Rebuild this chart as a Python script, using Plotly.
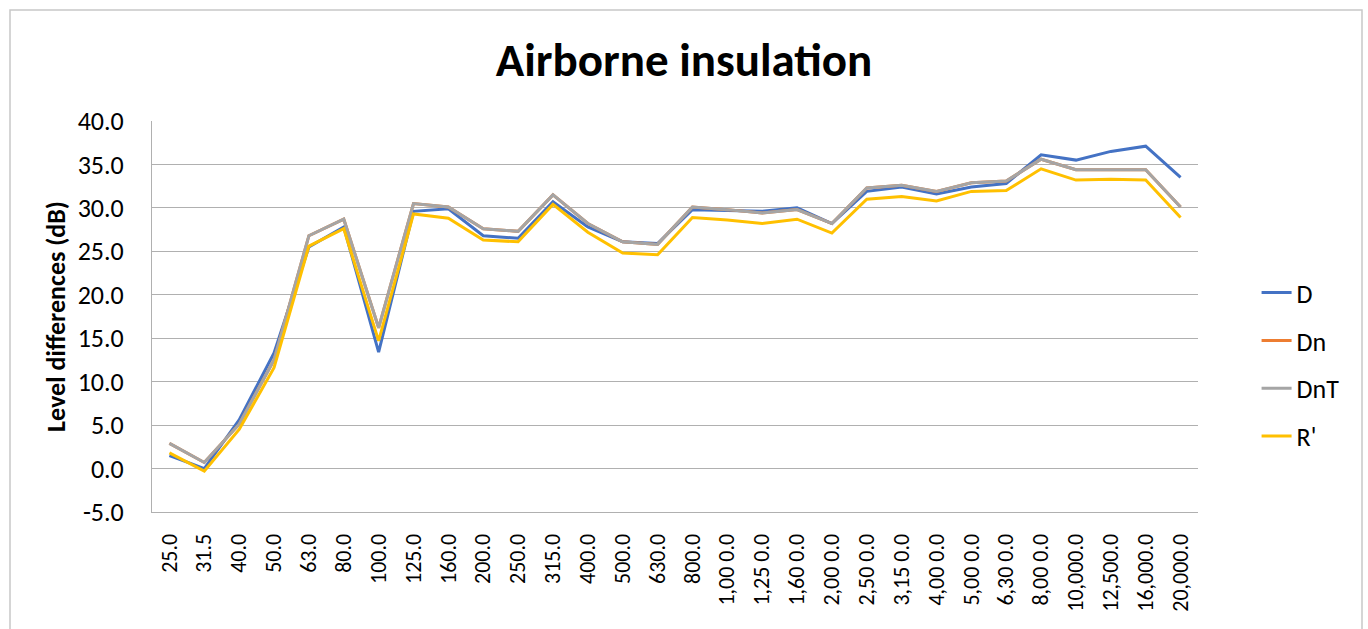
import plotly.graph_objects as go

freq_labels = ["25.0", "31.5", "40.0", "50.0", "63.0", "80.0", "100.0", "125.0", "160.0",
               "200.0", "250.0", "315.0", "400.0", "500.0", "630.0", "800.0",
               "1,00 0.0", "1,25 0.0", "1,60 0.0", "2,00 0.0", "2,50 0.0", "3,15 0.0",
               "4,00 0.0", "5,00 0.0", "6,30 0.0", "8,00 0.0",
               "10,000.0", "12,500.0", "16,000.0", "20,000.0"]

y_tick_vals = [-5, 0, 5, 10, 15, 20, 25, 30, 35, 40]
y_tick_text = ["-5.0", "0.0", "5.0", "10.0", "15.0", "20.0", "25.0", "30.0", "35.0", "40.0"]

D = [1.5, 0.0, 5.6, 13.3, 25.5, 27.8, 13.4, 29.6, 29.9, 26.8, 26.5, 30.7, 27.8, 26.1, 25.9,
     29.8, 29.7, 29.6, 30.0, 28.2, 31.9, 32.4, 31.6, 32.4, 32.8, 36.1, 35.5, 36.5, 37.1, 33.5]
Dn = [2.9, 0.7, 5.1, 12.5, 26.8, 28.7, 16.2, 30.5, 30.1, 27.6, 27.3, 31.5, 28.2, 26.1, 25.8,
      30.1, 29.8, 29.4, 29.8, 28.2, 32.3, 32.6, 31.9, 32.9, 33.1, 35.6, 34.4, 34.4, 34.4, 30.1]
DnT = [2.9, 0.7, 5.1, 12.5, 26.8, 28.7, 16.2, 30.5, 30.1, 27.6, 27.3, 31.5, 28.2, 26.1, 25.8,
       30.1, 29.8, 29.4, 29.8, 28.2, 32.3, 32.6, 31.9, 32.9, 33.1, 35.6, 34.4, 34.4, 34.4, 30.1]
R_prime = [1.8, -0.3, 4.5, 11.6, 25.6, 27.6, 14.7, 29.3, 28.8, 26.3, 26.1, 30.4, 27.2, 24.8, 24.6,
           28.9, 28.6, 28.2, 28.7, 27.1, 31.0, 31.3, 30.8, 31.9, 32.0, 34.5, 33.2, 33.3, 33.2, 28.9]

series = [("D", D, "#4472C4"), ("Dn", Dn, "#ED7D31"), ("DnT", DnT, "#A5A5A5"), ("R'", R_prime, "#FFC000")]

FONT = "Carlito, Lato, sans-serif"

fig = go.Figure()
for name, vals, color in series:
    fig.add_trace(go.Scatter(x=freq_labels, y=vals, name=name, mode="lines",
                             line=dict(color=color, width=3), legendgroup=name))

fig.update_layout(
    width=1368, height=629,
    paper_bgcolor="white", plot_bgcolor="white",
    margin=dict(l=152, r=170, t=121, b=117),
    font=dict(family=FONT, size=26, color="#000000"),
    title=dict(text="<b>Airborne insulation</b>", x=0.5, xanchor="center",
               y=1 - 60 / 629, yanchor="middle",
               font=dict(family=FONT, size=47, color="#000000")),
    showlegend=True,
    legend=dict(x=1.056, xanchor="left", y=0.621, yanchor="top",
                font=dict(family=FONT, size=26), tracegroupgap=11,
                bgcolor="rgba(0,0,0,0)"),
    xaxis=dict(type="category", tickangle=-90, showgrid=False, ticks="",
               range=[-0.5, len(freq_labels) - 0.5],
               showline=True, linecolor="#b0b0b0", linewidth=1, automargin=False,
               ticklabelstandoff=12, tickfont=dict(family=FONT, size=22)),
    yaxis=dict(range=[-5, 40], tickmode="array", tickvals=y_tick_vals, ticktext=y_tick_text,
               showgrid=True, gridcolor="#b0b0b0", gridwidth=1, zeroline=False,
               showline=True, linecolor="#b0b0b0", linewidth=1, automargin=False,
               ticks="", ticklabelstandoff=22,
               tickfont=dict(family=FONT, size=26),
               title=dict(text="<b>Level differences (dB)</b>", standoff=4,
                          font=dict(family=FONT, size=26))),
)

fig.add_shape(type="rect", xref="paper", yref="paper",
              x0=(10 - 152) / 1046, x1=(1362 - 152) / 1046,
              y0=(512 - 660) / 391, y1=(512 - 10) / 391,
              line=dict(color="#c8c8c8", width=1.5), fillcolor="rgba(0,0,0,0)", layer="below")

fig.write_html("out.html", config={"displayModeBar": False},
               post_script="document.body.style.margin='0';")
